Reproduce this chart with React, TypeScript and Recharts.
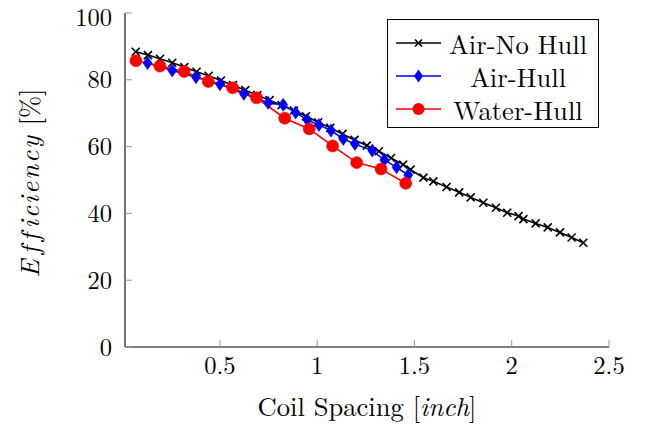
import React from 'react';
import { LineChart, Line, XAxis, YAxis, Legend, Label } from 'recharts';

// ---- data ----
const noHullX = [0.067, 0.13, 0.192, 0.255, 0.317, 0.38, 0.442, 0.505, 0.567, 0.63, 0.692, 0.755, 0.817, 0.88, 0.942, 1.005, 1.067, 1.13, 1.192, 1.255, 1.317, 1.38, 1.442, 1.48, 1.546, 1.597, 1.665, 1.73, 1.789, 1.854, 1.919, 1.977, 2.035, 2.06, 2.123, 2.185, 2.248, 2.308, 2.368];
const noHullY = [88.4, 87.4, 86.3, 85.1, 83.8, 82.4, 81.2, 79.8, 78.4, 76.9, 75.4, 73.9, 72.4, 70.8, 69.1, 67.3, 65.6, 63.8, 62.0, 60.3, 58.6, 56.6, 54.6, 53.1, 50.7, 49.6, 47.9, 46.3, 44.8, 43.2, 41.7, 40.2, 39.2, 38.3, 37.0, 35.8, 34.3, 32.8, 31.2];

const hullX = [0.128, 0.255, 0.377, 0.5, 0.623, 0.748, 0.825, 0.889, 0.949, 1.009, 1.071, 1.134, 1.194, 1.283, 1.345, 1.408, 1.468];
const hullY = [85.0, 82.8, 80.8, 78.7, 75.8, 73.1, 72.5, 70.2, 68.0, 66.5, 64.8, 62.3, 60.8, 58.8, 56.0, 53.8, 51.5];

const waterX = [0.068, 0.191, 0.316, 0.44, 0.565, 0.688, 0.833, 0.959, 1.079, 1.203, 1.328, 1.455];
const waterY = [85.7, 84.1, 82.5, 79.5, 77.6, 74.6, 68.5, 65.3, 60.2, 55.2, 53.3, 49.0];

const seriesNames = ['Air-No Hull', 'Air-Hull', 'Water-Hull'];
const xTicks = [0.5, 1, 1.5, 2, 2.5];
const yTicks = [0, 20, 40, 60, 80, 100];

const toPoints = (xs: number[], ys: number[]) => xs.map((x, i) => ({ x, y: ys[i] }));
const noHullData = toPoints(noHullX, noHullY);
const hullData = toPoints(hullX, hullY);
const waterData = toPoints(waterX, waterY);

const FONT = "'Latin Modern Roman', 'Liberation Serif'";
const TICK_GRAY = '#9a9a9a';

// ---- markers ----
const CrossDot = (p: any) => {
  const { cx, cy, index } = p;
  if (cx == null || cy == null) return <g key={`c${index}`} />;
  const s = 4;
  return (
    <path
      key={`c${index}`}
      d={`M${cx - s},${cy - s}L${cx + s},${cy + s}M${cx - s},${cy + s}L${cx + s},${cy - s}`}
      stroke="#000"
      strokeWidth={1.6}
      fill="none"
    />
  );
};

const DiamondDot = (p: any) => {
  const { cx, cy, index } = p;
  if (cx == null || cy == null) return <g key={`d${index}`} />;
  const w = 4.5, h = 6.5;
  return (
    <polygon
      key={`d${index}`}
      points={`${cx},${cy - h} ${cx + w},${cy} ${cx},${cy + h} ${cx - w},${cy}`}
      fill="#0000ff"
      stroke="#0000ff"
      strokeWidth={0.6}
    />
  );
};

const CircleDot = (p: any) => {
  const { cx, cy, index } = p;
  if (cx == null || cy == null) return <g key={`o${index}`} />;
  return <circle key={`o${index}`} cx={cx} cy={cy} r={6} fill="#ff0000" stroke="#ff0000" strokeWidth={0.6} />;
};

// ---- labels ----
const XLabel = (props: any) => {
  const vb = props.viewBox || {};
  const cx = vb.x + vb.width / 2;
  return (
    <text x={cx} y={416} textAnchor="middle" style={{ fontFamily: FONT }} fontSize={26.6} fill="#000">
      <tspan>Coil Spacing [</tspan>
      <tspan fontStyle="italic">inch</tspan>
      <tspan>]</tspan>
    </text>
  );
};

const YLabel = () => {
  const cx = 38.5;
  const cy = 183;
  return (
    <text
      x={cx}
      y={cy}
      textAnchor="middle"
      style={{ fontFamily: FONT }}
      fontSize={26.4}
      fill="#000"
      transform={`rotate(-90, ${cx}, ${cy})`}
    >
      <tspan fontStyle="italic" letterSpacing={2}>E</tspan>
      <tspan fontStyle="italic" dx={3} letterSpacing={2}>f</tspan>
      <tspan fontStyle="italic" dx={3} letterSpacing={2}>f</tspan>
      <tspan fontStyle="italic" dx={3} letterSpacing={2}>iciency</tspan>
      <tspan> [%]</tspan>
    </text>
  );
};

// ---- legend ----
const legendMarkers = [
  (x: number, y: number) => (
    <path d={`M${x - 3.5},${y - 3.5}L${x + 3.5},${y + 3.5}M${x - 3.5},${y + 3.5}L${x + 3.5},${y - 3.5}`} stroke="#000" strokeWidth={1.6} />
  ),
  (x: number, y: number) => (
    <polygon points={`${x},${y - 6.5} ${x + 4.5},${y} ${x},${y + 6.5} ${x - 4.5},${y}`} fill="#0000ff" />
  ),
  (x: number, y: number) => <circle cx={x} cy={y} r={6} fill="#ff0000" />,
];
const legendColors = ['#000', '#0000ff', '#ff0000'];

const LegendBox = () => {
  const rowsY = [23, 55.5, 88.5];
  return (
    <div
      style={{
        position: 'relative',
        width: 212,
        height: 109,
        border: '1.2px solid #000',
        boxSizing: 'border-box',
        background: '#fff',
        fontFamily: FONT,
        fontSize: 26.6,
        color: '#000',
      }}
    >
      {seriesNames.map((name, i) => (
        <React.Fragment key={name}>
          <svg
            width={50}
            height={20}
            style={{ position: 'absolute', left: 6, top: rowsY[i] - 10, overflow: 'visible' }}
          >
            <line x1={2} y1={10} x2={47} y2={10} stroke={legendColors[i]} strokeWidth={1.6} />
            {legendMarkers[i](24.5, 10)}
          </svg>
          <div
            style={{
              position: 'absolute',
              left: 58,
              width: 144,
              top: rowsY[i] - 15,
              height: 30,
              lineHeight: '30px',
              textAlign: 'center',
              whiteSpace: 'nowrap',
              fontFamily: FONT,
            }}
          >
            {name}
          </div>
        </React.Fragment>
      ))}
    </div>
  );
};

export default function App() {
  const tickStyle = { fill: '#000', fontSize: 24.5, fontFamily: FONT, style: { fontFamily: FONT } };
  return (
    <div style={{ position: 'absolute', left: 0, top: 0, width: 650, height: 427, background: '#fff', fontFamily: FONT }}>
      <LineChart width={650} height={427} margin={{ top: 13, right: 41, bottom: 0, left: 0 }} style={{ fontFamily: FONT }}>
        <XAxis
          xAxisId="b"
          type="number"
          dataKey="x"
          domain={[0.012, 2.5]}
          allowDataOverflow
          ticks={xTicks}
          orientation="bottom"
          height={80}
          tickSize={-7}
          tickMargin={17}
          tickLine={{ stroke: TICK_GRAY }}
          axisLine={{ stroke: '#000', strokeWidth: 1.1 }}
          tick={tickStyle}
        >
          <Label content={XLabel} />
        </XAxis>
        <XAxis
          xAxisId="t"
          type="number"
          dataKey="x"
          domain={[0.012, 2.5]}
          allowDataOverflow
          ticks={xTicks}
          orientation="top"
          height={0}
          tickSize={-7}
          tickLine={{ stroke: TICK_GRAY }}
          axisLine={{ stroke: '#000', strokeWidth: 1.1 }}
          tick={false}
        />
        <YAxis
          yAxisId="l"
          type="number"
          domain={[0, 100]}
          allowDataOverflow
          ticks={yTicks}
          orientation="left"
          width={125}
          tickSize={-7}
          tickMargin={20}
          tickLine={{ stroke: TICK_GRAY }}
          axisLine={{ stroke: '#000', strokeWidth: 1.1 }}
          tick={tickStyle}
        >
          <Label content={YLabel} />
        </YAxis>
        <YAxis
          yAxisId="r"
          type="number"
          domain={[0, 100]}
          allowDataOverflow
          ticks={yTicks}
          orientation="right"
          width={0}
          tickSize={-7}
          tickLine={{ stroke: TICK_GRAY }}
          axisLine={{ stroke: '#000', strokeWidth: 1.1 }}
          tick={false}
        />
        <Legend
          layout="vertical"
          align="center"
          verticalAlign="middle"
          content={LegendBox}
          wrapperStyle={{ position: 'absolute', left: 387, top: 19, width: 212, height: 109 }}
        />
        <Line
          xAxisId="b"
          yAxisId="l"
          name={seriesNames[0]}
          data={noHullData}
          dataKey="y"
          type="linear"
          stroke="#000"
          strokeWidth={1.6}
          dot={CrossDot}
          activeDot={false}
          isAnimationActive={false}
        />
        <Line
          xAxisId="b"
          yAxisId="l"
          name={seriesNames[1]}
          data={hullData}
          dataKey="y"
          type="linear"
          stroke="#0000ff"
          strokeWidth={1.6}
          dot={DiamondDot}
          activeDot={false}
          isAnimationActive={false}
        />
        <Line
          xAxisId="b"
          yAxisId="l"
          name={seriesNames[2]}
          data={waterData}
          dataKey="y"
          type="linear"
          stroke="#ff0000"
          strokeWidth={1.6}
          dot={CircleDot}
          activeDot={false}
          isAnimationActive={false}
        />
      </LineChart>
    </div>
  );
}
